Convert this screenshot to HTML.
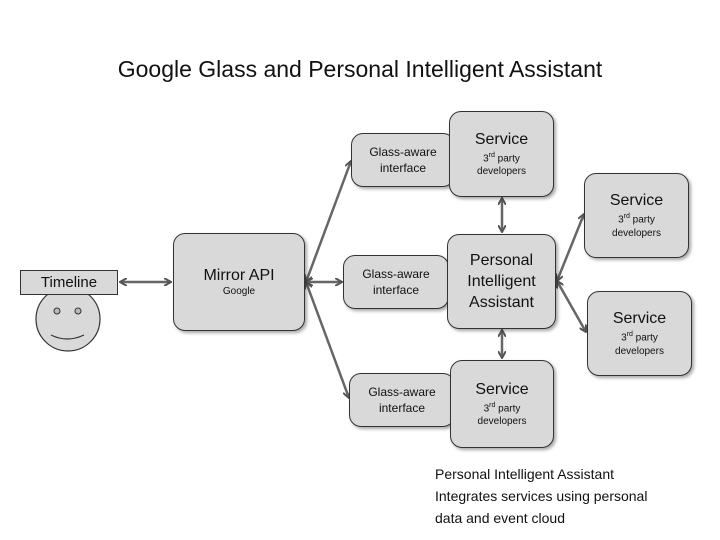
<!DOCTYPE html>
<html><head><style>
body{margin:0;width:720px;height:540px;background:#fff;font-family:"Liberation Sans",sans-serif;position:relative;overflow:hidden}
.b{position:absolute;background:#d9d9d9;border:1.5px solid #333;border-radius:12px;box-sizing:border-box;display:flex;flex-direction:column;align-items:center;justify-content:center;text-align:center;color:#111;box-shadow:2px 2px 3px rgba(0,0,0,.35)}
.s1{font-size:16px;line-height:19px}.s2{font-size:10px;line-height:13px}.g{font-size:12px;line-height:16px}
</style></head><body>
<div style="position:absolute;left:0;width:720px;top:56px;text-align:center;font-size:23px;color:#111">Google Glass and Personal Intelligent Assistant</div>
<svg width="720" height="540" style="position:absolute;left:0;top:0">
<defs><marker id="a" markerWidth="8" markerHeight="8" refX="7" refY="4" orient="auto-start-reverse" markerUnits="userSpaceOnUse"><path d="M0,0 L7,4 L0,8" fill="none" stroke="#555" stroke-width="2"/></marker></defs>
<g stroke="#666" stroke-width="2.5" fill="none" marker-start="url(#a)" marker-end="url(#a)">
<line x1="120" y1="282" x2="171" y2="282"/>
<line x1="306" y1="282" x2="351" y2="161"/>
<line x1="306" y1="282" x2="342" y2="282"/>
<line x1="306" y1="282" x2="349" y2="398"/>
<line x1="502" y1="198" x2="502" y2="232"/>
<line x1="502" y1="330" x2="502" y2="358"/>
<line x1="557" y1="281" x2="584" y2="214"/>
<line x1="557" y1="281" x2="586" y2="332"/>
</g>
<circle cx="68" cy="319" r="32" fill="#d9d9d9" stroke="#333" stroke-width="1.2"/>
<circle cx="57" cy="311" r="3" fill="#bbb" stroke="#333"/>
<circle cx="78" cy="311" r="3" fill="#bbb" stroke="#333"/>
<path d="M51,335 Q67,343 84,335" fill="none" stroke="#333" stroke-width="1.2"/>
</svg>
<div style="position:absolute;left:20px;top:270px;width:98px;height:25px;background:#d9d9d9;border:1.2px solid #333;box-sizing:border-box;text-align:center;font-size:15px;line-height:23px;color:#111">Timeline</div>
<div class="b" style="left:173px;top:233px;width:132px;height:98px"><div class="s1">Mirror API</div><div class="s2">Google</div></div>
<div class="b" style="left:351px;top:133px;width:104px;height:54px"><div class="g">Glass-aware<br>interface</div></div>
<div class="b" style="left:449px;top:111px;width:105px;height:86px"><div class="s1">Service</div><div class="s2">3<sup style="font-size:7px">rd</sup> party<br>developers</div></div>
<div class="b" style="left:343px;top:255px;width:106px;height:54px"><div class="g">Glass-aware<br>interface</div></div>
<div class="b" style="left:447px;top:234px;width:109px;height:95px"><div class="s1" style="line-height:21px">Personal<br>Intelligent<br>Assistant</div></div>
<div class="b" style="left:584px;top:173px;width:105px;height:85px"><div class="s1">Service</div><div class="s2">3<sup style="font-size:7px">rd</sup> party<br>developers</div></div>
<div class="b" style="left:587px;top:291px;width:105px;height:85px"><div class="s1">Service</div><div class="s2">3<sup style="font-size:7px">rd</sup> party<br>developers</div></div>
<div class="b" style="left:349px;top:373px;width:106px;height:54px"><div class="g">Glass-aware<br>interface</div></div>
<div class="b" style="left:450px;top:360px;width:104px;height:88px"><div class="s1">Service</div><div class="s2">3<sup style="font-size:7px">rd</sup> party<br>developers</div></div>
<div style="position:absolute;left:435px;top:463px;font-size:14px;line-height:22px;color:#111">Personal Intelligent Assistant<br>Integrates services using personal<br>data and event cloud</div>
</body></html>
